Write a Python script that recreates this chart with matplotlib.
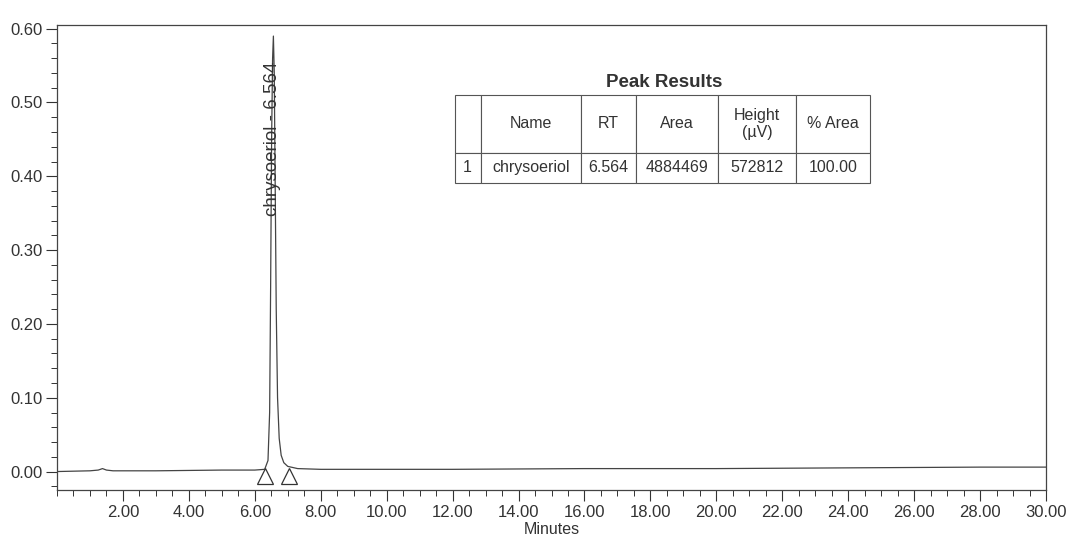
import matplotlib.pyplot as plt
from matplotlib.ticker import MultipleLocator, FormatStrFormatter

plt.rcParams['font.family'] = ['Liberation Sans', 'DejaVu Sans']

# chromatogram trace (minutes, AU)
minutes = [0.0, 1.0, 1.25, 1.38, 1.5, 1.7, 3.0, 5.0, 6.0, 6.30, 6.40, 6.45,
           6.48, 6.51, 6.54, 6.564, 6.59, 6.62, 6.65, 6.69, 6.74, 6.80, 6.88,
           7.0, 7.3, 8.0, 12.0, 16.0, 20.0, 24.0, 28.0, 30.0]
absorbance = [0.000, 0.001, 0.002, 0.004, 0.002, 0.001, 0.001, 0.002, 0.002,
              0.003, 0.015, 0.08, 0.25, 0.45, 0.56, 0.590, 0.54, 0.38, 0.22,
              0.10, 0.045, 0.022, 0.012, 0.007, 0.004, 0.003, 0.003, 0.004,
              0.004, 0.005, 0.006, 0.006]

peak_name = "chrysoeriol"
peak_rt = 6.564
peak_start = 6.30
peak_end = 7.05

table_cols = ["", "Name", "RT", "Area", "Height\n(µV)", "% Area"]
table_row = ["1", "chrysoeriol", "6.564", "4884469", "572812", "100.00"]

fig = plt.figure(figsize=(10.7, 5.4), dpi=100)
ax = fig.add_axes([57 / 1070, 50 / 540, 989 / 1070, 465 / 540])

ax.plot(minutes, absorbance, color='#444444', lw=0.9)

# baseline start/end markers
ax.plot([peak_start, peak_end], [-0.006, -0.006], linestyle='none', marker='^',
        markersize=11, markerfacecolor='white', markeredgecolor='#333333', markeredgewidth=0.9)

ax.text(peak_rt - 0.03, 0.555, f"{peak_name} - {peak_rt}", rotation=90, ha='center', va='top',
        fontsize=13.5, color='#333333')

ax.set_xlim(0, 30)
ax.set_ylim(-0.025, 0.605)
ax.xaxis.set_major_locator(MultipleLocator(2))
ax.xaxis.set_minor_locator(MultipleLocator(0.5))
ax.yaxis.set_major_locator(MultipleLocator(0.1))
ax.yaxis.set_minor_locator(MultipleLocator(0.02))
ax.xaxis.set_major_formatter(FormatStrFormatter('%.2f'))
ax.yaxis.set_major_formatter(FormatStrFormatter('%.2f'))
ax.tick_params(which='major', length=8, width=0.8, labelsize=12, colors='#333333')
ax.tick_params(which='minor', length=4, width=0.7, colors='#333333')
ax.tick_params(axis='x', pad=3)
ax.tick_params(axis='y', pad=2)
ax.set_xticks([t for t in range(2, 31, 2)])
ax.set_xlabel("Minutes", fontsize=11.5, color='#333333', labelpad=1)
for s in ax.spines.values():
    s.set_color('#444444')
    s.set_linewidth(0.9)

ax.text(0.614, 0.858, "Peak Results", transform=ax.transAxes, ha='center', va='bottom',
        fontsize=13.5, fontweight='bold', color='#333333')
widths = [26, 100, 55, 82, 78, 74]
tot = sum(widths)
tbl = ax.table(cellText=[table_row], colLabels=table_cols,
               colWidths=[w / tot * 0.42 for w in widths],
               bbox=[0.402, 0.66, 0.42, 0.19], cellLoc='center')
tbl.auto_set_font_size(False)
tbl.set_fontsize(11.5)
for (r, c), cell in tbl.get_celld().items():
    cell.set_edgecolor('#555555')
    cell.set_linewidth(0.8)
    cell.get_text().set_color('#333333')
    if r == 0:
        cell.set_height(0.125)
    else:
        cell.set_height(0.065)

fig.savefig("out.png", dpi=100, facecolor='white')
